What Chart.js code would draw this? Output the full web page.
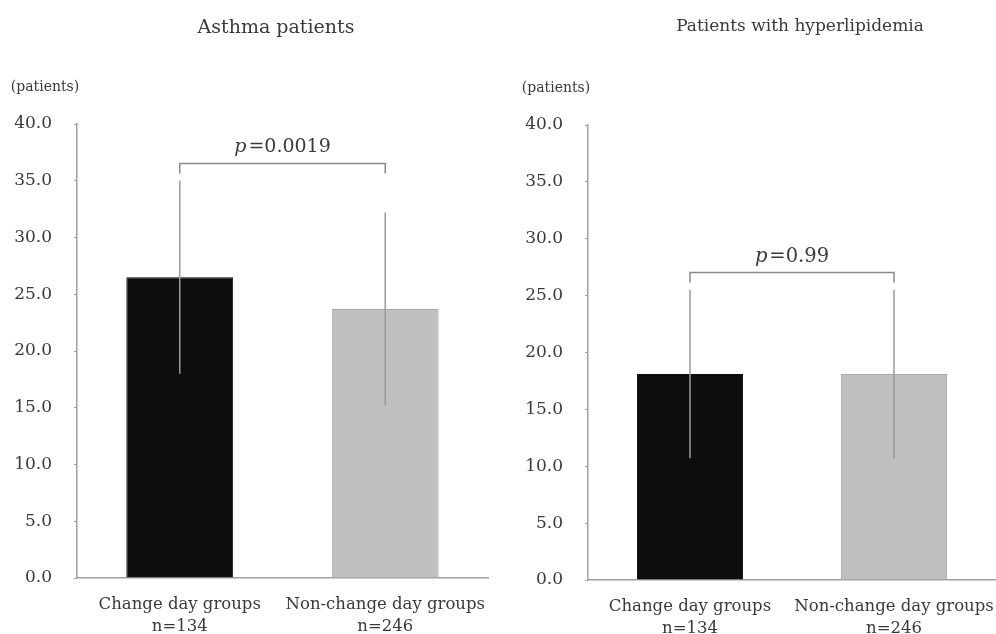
<!DOCTYPE html>
<html>
<head>
<meta charset="utf-8">
<script src="https://cdn.jsdelivr.net/npm/chart.js@4.4.1/dist/chart.umd.min.js"></script>
<style>
html,body{margin:0;padding:0;background:#fff;}
#wrap{position:relative;width:996px;height:634px;overflow:hidden;}
.pane{position:absolute;top:0;width:498px;height:634px;}
</style>
</head>
<body>
<div id="wrap">
  <div class="pane" style="left:0"><canvas id="c1" width="498" height="634"></canvas></div>
  <div class="pane" style="left:498px"><canvas id="c2" width="498" height="634"></canvas></div>
</div>
<script>
// ---- data ----
const categories = [["Change day groups", "n=134"], ["Non-change day groups", "n=246"]];
const yTicks = [0, 5, 10, 15, 20, 25, 30, 35, 40];
const asthmaMeans = [26.5, 23.7];
const asthmaSD = [8.5, 8.5];
const asthmaP = "0.0019";
const asthmaBracket = 36.6;
const hyperMeans = [18.1, 18.1];
const hyperSD = [7.4, 7.4];
const hyperP = "0.99";
const hyperBracket = 27.1;
const titles = ["Asthma patients", "Patients with hyperlipidemia"];
const yUnit = "(patients)";

const FONT = "'DejaVu Serif', 'Liberation Serif', serif";
const TXT = "#3a3a3a";

const overlay = {
  id: 'overlay',
  afterDatasetsDraw(chart) {
    const o = chart.options.plugins.overlay;
    const ctx = chart.ctx;
    const xs = chart.scales.x, ys = chart.scales.y;
    const ca = chart.chartArea;
    ctx.save();
    // error bars
    ctx.strokeStyle = '#9a9a9a';
    ctx.lineWidth = 1.5;
    o.means.forEach((m, i) => {
      const x = xs.getPixelForValue(i);
      ctx.beginPath();
      ctx.moveTo(x, ys.getPixelForValue(m + o.sd[i]));
      ctx.lineTo(x, ys.getPixelForValue(m - o.sd[i]));
      ctx.stroke();
    });
    // bracket
    const x0 = xs.getPixelForValue(0), x1 = xs.getPixelForValue(1);
    const by = Math.round(ys.getPixelForValue(o.bracket)) + 0.5;
    ctx.strokeStyle = '#8a8a8a';
    ctx.lineWidth = 1.5;
    ctx.beginPath();
    ctx.moveTo(x0, by + 10);
    ctx.lineTo(x0, by);
    ctx.lineTo(x1, by);
    ctx.lineTo(x1, by + 10);
    ctx.stroke();
    // p text
    ctx.fillStyle = TXT;
    ctx.textBaseline = 'middle';
    const pf = "italic " + o.pSize + "px " + FONT, rf = o.pSize + "px " + FONT;
    ctx.font = pf; const wp = ctx.measureText('p').width;
    ctx.font = rf; const wr = ctx.measureText('=' + o.p).width;
    const cx = (x0 + x1) / 2, ty = by - 16;
    let sx = cx - (wp + wr + 2) / 2;
    ctx.font = pf; ctx.textAlign = 'left'; ctx.fillText('p', sx, ty);
    ctx.font = rf; ctx.fillText('=' + o.p, sx + wp + 2, ty);
    // title
    ctx.textAlign = 'center';
    ctx.font = o.titleFont;
    ctx.fillText(o.title, o.titleX, o.titleY);
    // unit
    ctx.font = "14px " + FONT;
    ctx.fillText(yUnit, ca.left - 32, ca.top - 37);
    ctx.restore();
  }
};

function makeChart(id, means, sd, p, pSize, bracket, title, titleX, titleY, titleFont, pad) {
  return new Chart(document.getElementById(id), {
    type: 'bar',
    data: {
      labels: categories,
      datasets: [{
        data: means,
        backgroundColor: ['#0d0d0d', '#bfbfbf'],
        borderColor: ['#0d0d0d', '#a9a9a9'],
        borderWidth: 1,
        barPercentage: 0.52,
        categoryPercentage: 1.0
      }]
    },
    plugins: [overlay],
    options: {
      responsive: false,
      animation: false,
      events: [],
      layout: { padding: pad },
      plugins: {
        legend: { display: false },
        tooltip: { enabled: false },
        title: { display: false },
        overlay: { means, sd, p, pSize, bracket, title, titleX, titleY, titleFont }
      },
      scales: {
        x: {
          type: 'category',
          offset: true,
          grid: { display: false },
          border: { display: true, color: '#a0a0a0', width: 1.5 },
          ticks: { color: TXT, font: { family: FONT, size: 16.5, lineHeight: 1.33 }, padding: 8, maxRotation: 0, autoSkip: false },
          afterFit(s) { s.height = pad.axisH; s.paddingLeft = 0; s.paddingRight = 0; }
        },
        y: {
          min: 0, max: 40,
          afterBuildTicks(s) { s.ticks = yTicks.map(v => ({ value: v })); },
          grid: { display: true, drawOnChartArea: false, tickLength: 3, color: '#a0a0a0' },
          border: { display: true, color: '#a0a0a0', width: 1.5 },
          ticks: { color: TXT, font: { family: FONT, size: 17 }, padding: 22, callback: v => Number(v).toFixed(1) },
          afterFit(s) { s.width = pad.axisW; s.paddingTop = 0; s.paddingBottom = 0; }
        }
      }
    }
  });
}

makeChart('c1', asthmaMeans, asthmaSD, asthmaP, 19, asthmaBracket, titles[0], 276, 28, "19px " + FONT,
  { top: 124, right: 10, bottom: 0, left: 0, axisW: 77, axisH: 56 });
makeChart('c2', hyperMeans, hyperSD, hyperP, 19.5, hyperBracket, titles[1], 302, 27, "17px " + FONT,
  { top: 125, right: 0, bottom: 0, left: 0, axisW: 90, axisH: 54 });
</script>
</body>
</html>
